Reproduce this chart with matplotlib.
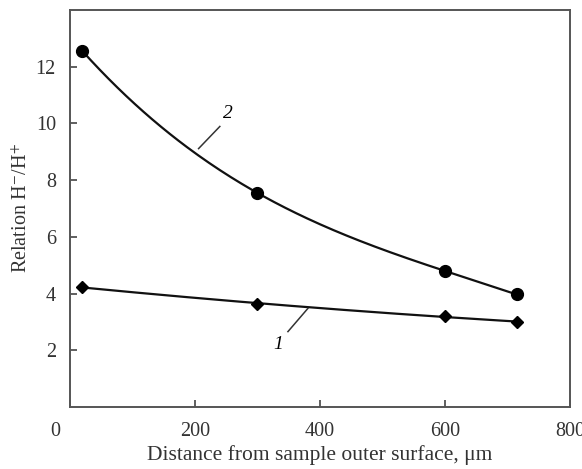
import numpy as np
import matplotlib
matplotlib.use("Agg")
import matplotlib.pyplot as plt
import matplotlib.transforms as mtransforms

# Data
x_curve2 = [20, 300, 600, 715]
y_curve2 = [12.55, 7.55, 4.8, 3.97]
x_curve1 = [20, 300, 600, 715]
y_curve1 = [4.22, 3.65, 3.2, 3.0]
xtick_vals = [0, 200, 400, 600, 800]
ytick_vals = [2, 4, 6, 8, 10, 12]
xlabel = "Distance from sample outer surface, \u03bcm"
ylabel = "Relation H$^{-}$/H$^{+}$"

plt.rcParams['font.family'] = ['Liberation Serif', 'DejaVu Serif']
plt.rcParams['mathtext.fontset'] = 'stix'

fig = plt.figure(figsize=(5.82, 4.69), dpi=100)
ax = fig.add_axes([0.120, 0.132, 0.859, 0.847])

# smooth rendering of the curves through the points
c2 = np.polyfit(x_curve2, y_curve2, 3)
xs = np.linspace(min(x_curve2), max(x_curve2), 200)
ax.plot(xs, np.polyval(c2, xs), color='#111111', lw=1.6)
c1 = np.polyfit(x_curve1, y_curve1, 2)
xs1 = np.linspace(min(x_curve1), max(x_curve1), 200)
ax.plot(xs1, np.polyval(c1, xs1), color='#111111', lw=1.6)

ax.plot(x_curve2, y_curve2, 'o', color='black', ms=8.5, ls='none')
ax.plot(x_curve1, y_curve1, 'D', color='black', ms=6.5, ls='none')

# curve labels with leader lines
ax.plot([206, 240], [9.11, 9.89], color='#333333', lw=1.1)
ax.text(253, 10.35, '2', fontsize=14, style='italic', ha='center', va='center')
ax.plot([349, 381], [2.66, 3.48], color='#333333', lw=1.1)
ax.text(333, 2.2, '1', fontsize=14, style='italic', ha='center', va='center')

ax.set_xlim(0, 800)
ax.set_ylim(0, 14)
ax.set_xticks(xtick_vals)
ax.set_xticklabels([str(v) for v in xtick_vals])
ax.set_yticks(ytick_vals)
ax.set_yticklabels([str(v) for v in ytick_vals])
ax.tick_params(axis='both', direction='in', length=5, width=1.2, colors='#444444',
               labelcolor='#333333', labelsize=14.5)
ax.tick_params(axis='x', pad=11)
ax.tick_params(axis='y', pad=10)

# shift the "0" label to the left like the reference
lbl0 = ax.get_xticklabels()[0]
lbl0.set_transform(lbl0.get_transform() + mtransforms.ScaledTranslation(-15/100, 0, fig.dpi_scale_trans))

for s in ax.spines.values():
    s.set_color('#555555')
    s.set_linewidth(1.4)

ax.set_xlabel(xlabel, fontsize=15.5, color='#333333', labelpad=3)
ax.set_ylabel(ylabel, fontsize=14.5, color='#333333', labelpad=3)

fig.savefig('out.png', dpi=100)
